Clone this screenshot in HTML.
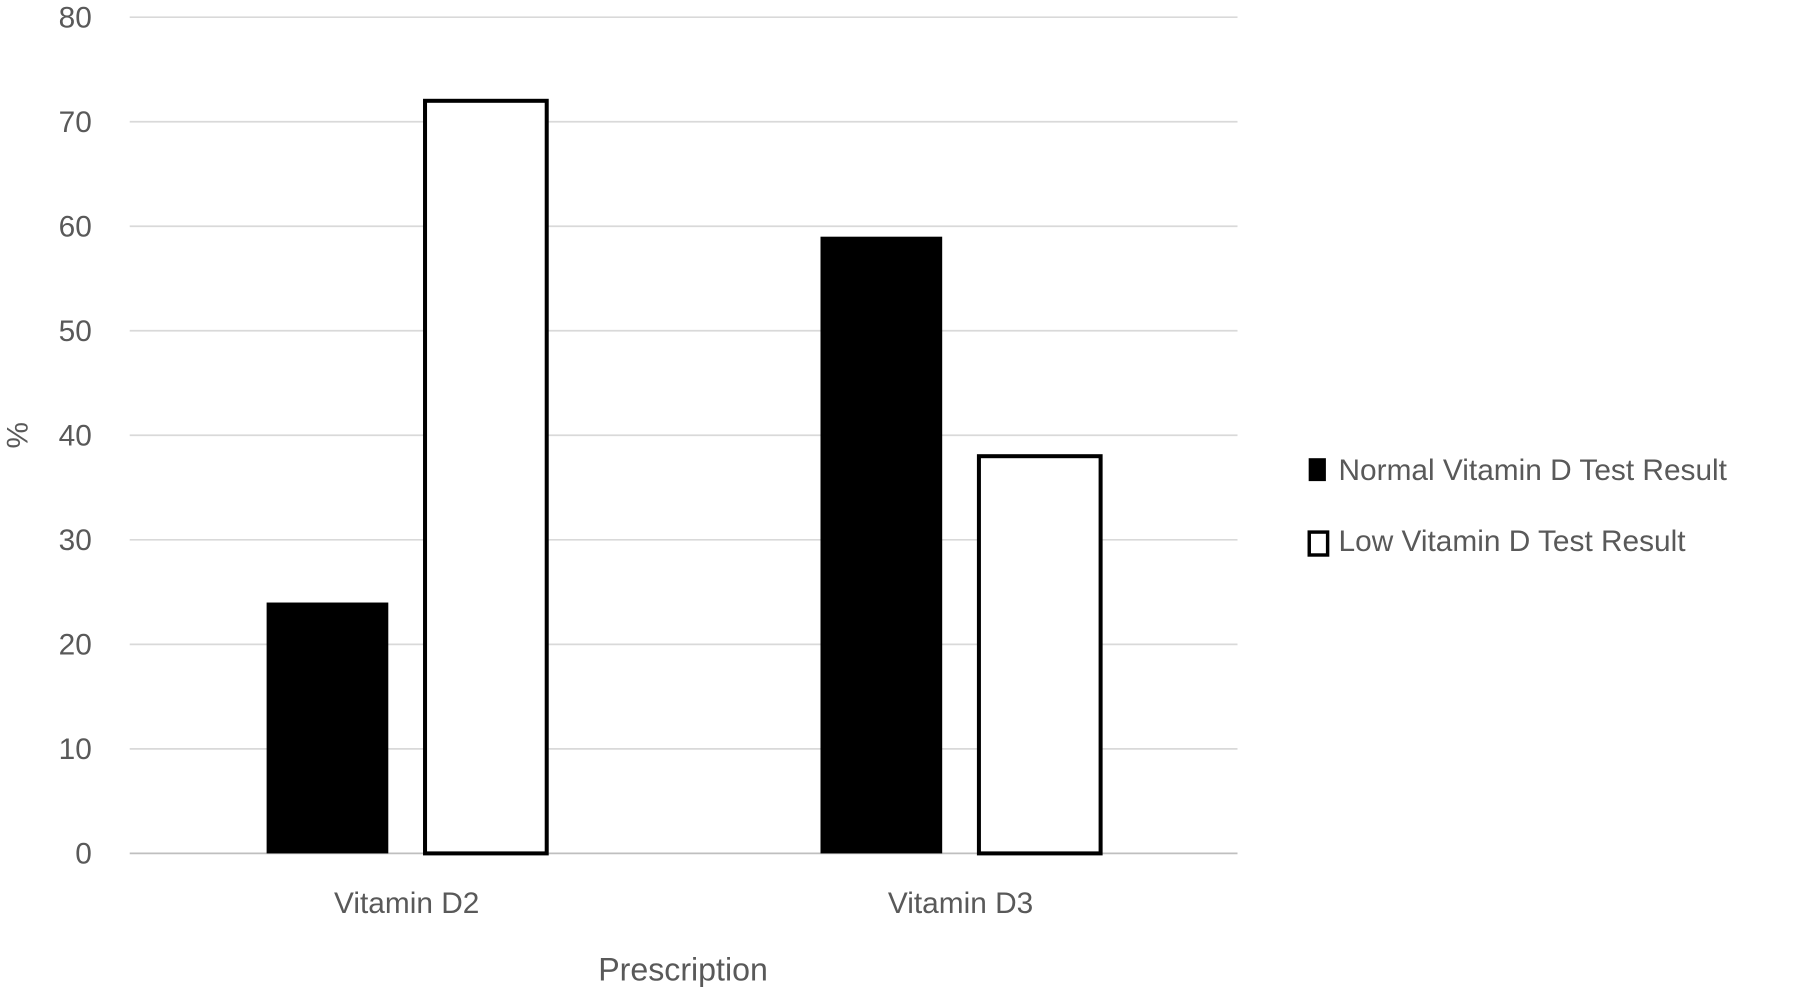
<!DOCTYPE html>
<html><head><meta charset="utf-8"><style>
html,body{margin:0;padding:0;background:#fff;}
svg{display:block;}
text{font-family:"Liberation Sans",sans-serif;fill:#595959;}
</style></head><body>
<svg id="chart" width="1800" height="992" viewBox="0 0 1568 866" preserveAspectRatio="none" xmlns="http://www.w3.org/2000/svg">
<g id="grid"></g>
<g id="yticks"></g>
<g id="bars"></g>
<g id="xlabels"></g>
<text x="0" y="0" font-size="26" text-anchor="middle" transform="translate(24,380) rotate(-90)">%</text>
<text x="595" y="856" font-size="28" text-anchor="middle">Prescription</text>
<g>
  <g>
    <rect x="1140" y="400" width="15" height="20" fill="#000"/>
    <text x="1166" y="419" font-size="26" fill="#404040">Normal Vitamin D Test Result</text>
  </g>
  <g>
    <rect x="1140.5" y="464.5" width="16" height="20" fill="#fff" stroke="#000" stroke-width="3"/>
    <text x="1166" y="481" font-size="26" fill="#404040">Low Vitamin D Test Result</text>
  </g>
</g>
</svg>
<script>
const categories = ["Vitamin D2", "Vitamin D3"];
const normalValues = [24, 59];
const lowValues = [72, 38];
const yTicks = [0, 10, 20, 30, 40, 50, 60, 70, 80];

const NS = "http://www.w3.org/2000/svg";
const x0 = 113, x1 = 1078, yTop = 15, yBot = 745, yMax = 80;
function yScale(v){ return yBot - (v / yMax) * (yBot - yTop); }
function xCenter(i){ const w = (x1 - x0) / categories.length; return x0 + w * (i + 0.5); }
function mk(tag, attrs, parent){ const e = document.createElementNS(NS, tag); for (const k in attrs) e.setAttribute(k, attrs[k]); parent.appendChild(e); return e; }

const grid = document.getElementById('grid');
const yt = document.getElementById('yticks');
yTicks.forEach(t => {
  const y = yScale(t);
  const l = mk('line', {x1: x0, x2: x1, y1: y, y2: y, stroke: t === 0 ? '#bfbfbf' : '#d9d9d9', 'stroke-width': 1.5}, grid);
  
  
  const tx = mk('text', {x: 80, y: y + 9, 'font-size': 26, 'text-anchor': 'end'}, yt);
  tx.textContent = t;
  
  
});

const bars = document.getElementById('bars');
const xl = document.getElementById('xlabels');
const bw = 106, off = 69;
categories.forEach((c, i) => {
  const cx = xCenter(i);
  const yn = yScale(normalValues[i]);
  const b1 = mk('rect', {x: cx - off - bw/2, y: yn, width: bw, height: yBot - yn, fill: '#000'}, bars);
  
  
  const yl = yScale(lowValues[i]);
  const b2 = mk('rect', {x: cx + off - bw/2, y: yl, width: bw, height: yBot - yl, fill: '#fff', stroke: '#000', 'stroke-width': 3.5}, bars);
  
  
  const t = mk('text', {x: cx, y: 797, 'font-size': 26, 'text-anchor': 'middle'}, xl);
  t.textContent = c;
  
  
});
</script>
</body></html>
